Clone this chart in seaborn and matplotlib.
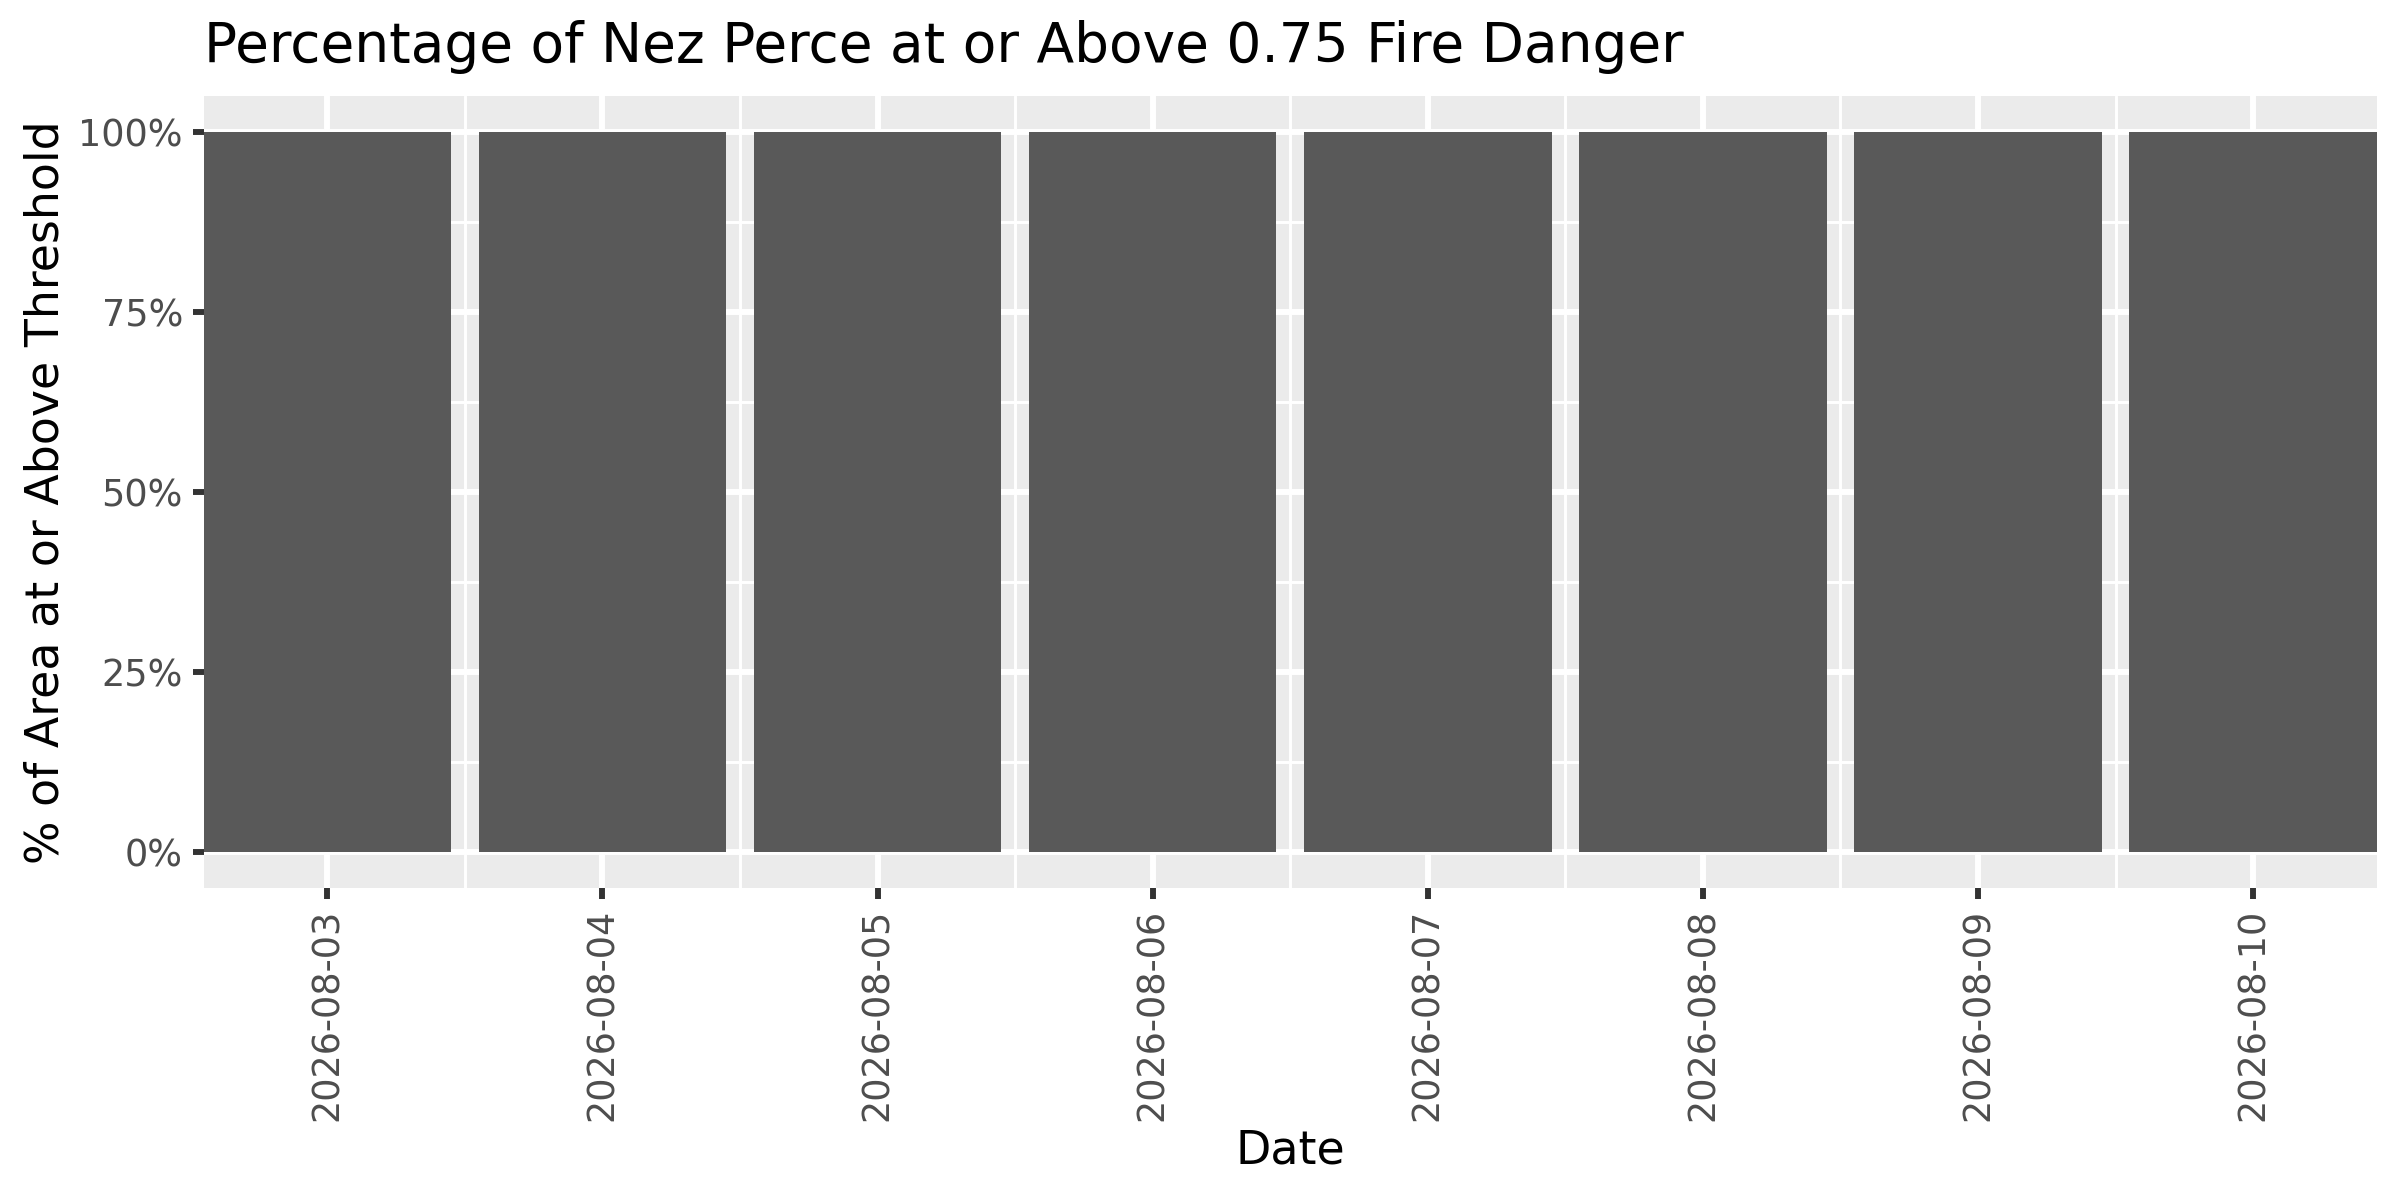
import matplotlib
matplotlib.use("Agg")
import matplotlib.pyplot as plt
import seaborn as sns
import numpy as np
import pandas as pd
from matplotlib.ticker import FixedLocator, PercentFormatter

# data
dates = ["2026-08-03", "2026-08-04", "2026-08-05", "2026-08-06",
         "2026-08-07", "2026-08-08", "2026-08-09", "2026-08-10"]
pct_above = [1.0, 1.0, 1.0, 1.0, 1.0, 1.0, 1.0, 1.0]
y_ticks = [0, 0.25, 0.5, 0.75, 1.0]
y_minor = [0.125, 0.375, 0.625, 0.875]

df = pd.DataFrame({"Date": dates, "Pct": pct_above})

sns.set_theme(style="darkgrid")
plt.rcParams["font.family"] = ["DejaVu Sans"]

fig, ax = plt.subplots(figsize=(8, 4), dpi=300)
fig.subplots_adjust(left=0.0848, right=0.9904, top=0.9196, bottom=0.2602)

sns.barplot(data=df, x="Date", y="Pct", color="#595959", saturation=1,
            width=0.9, linewidth=0, ax=ax)

ax.set_facecolor("#EBEBEB")
ax.set_xlim(-0.45, len(dates) - 0.55)
ax.set_ylim(-0.05, 1.05)
ax.yaxis.set_major_locator(FixedLocator(y_ticks))
ax.yaxis.set_minor_locator(FixedLocator(y_minor))
ax.xaxis.set_minor_locator(FixedLocator(np.arange(len(dates) - 1) + 0.5))
ax.yaxis.set_major_formatter(PercentFormatter(1.0, decimals=0))

ax.grid(which="major", color="white", linewidth=1.42)
ax.grid(which="minor", color="white", linewidth=0.71)
ax.set_axisbelow(True)
for s in ax.spines.values():
    s.set_visible(False)

ax.tick_params(axis="both", which="major", length=2.75, width=1.42,
               color="#333333", labelcolor="#4D4D4D", labelsize=8.8, pad=2.2,
               bottom=True, left=True)
ax.tick_params(axis="both", which="minor", length=0)
plt.setp(ax.get_xticklabels(), rotation=90, ha="center", va="top")

ax.set_xlabel("")
ax.set_ylabel("")
fig.text(0.5376, 0.041, "Date", ha="center", va="center", fontsize=11, color="black")
fig.text(0.019, 0.59, "% of Area at or Above Threshold", rotation=90,
         ha="center", va="center", fontsize=11, color="black")
fig.text(0.0848, 0.948, "Percentage of Nez Perce at or Above 0.75 Fire Danger",
         ha="left", va="baseline", fontsize=13.2, color="black")

fig.savefig("out.png", dpi=300)
